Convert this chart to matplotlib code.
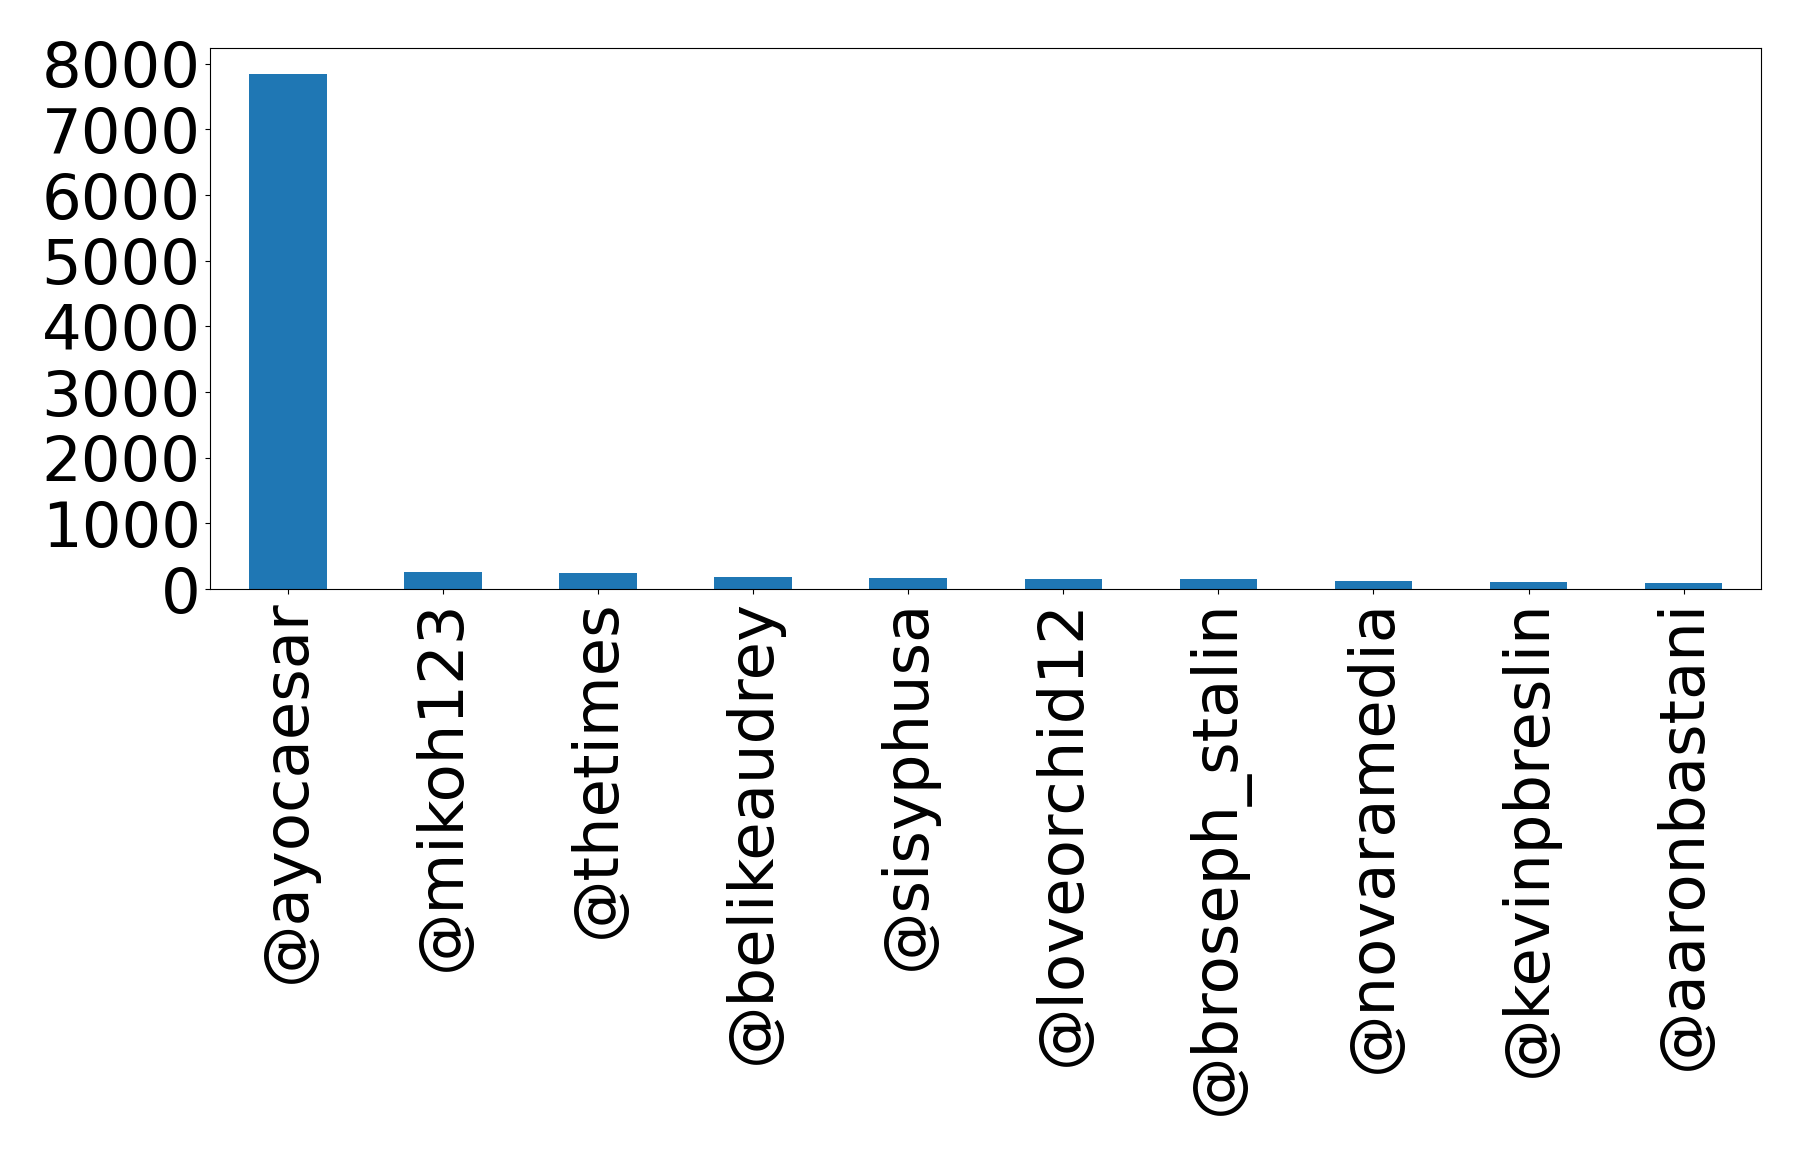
import matplotlib
matplotlib.use("Agg")
import matplotlib.pyplot as plt

users = ["@ayocaesar", "@mikoh123", "@thetimes", "@belikeaudrey", "@sisyphusa",
         "@loveorchid12", "@broseph_stalin", "@novaramedia", "@kevinpbreslin", "@aaronbastani"]
counts = [7840, 263, 247, 187, 172, 157, 155, 126, 111, 96]

fig = plt.figure(figsize=(17.98, 11.53), dpi=100)
ax = fig.add_axes([0.117, 0.489, 0.8625, 0.469])
x = list(range(len(users)))
ax.bar(x, counts, width=0.5, color="#1f77b4")
ax.set_xlim(-0.5, len(users) - 0.5)
ax.set_ylim(0, max(counts) * 1.05)
ax.set_xticks(x)
ax.set_xticklabels(users, rotation=90, fontsize=45)
ax.set_yticks(range(0, 8001, 1000))
ax.tick_params(axis="y", labelsize=45)
fig.savefig("out.png", dpi=100)
